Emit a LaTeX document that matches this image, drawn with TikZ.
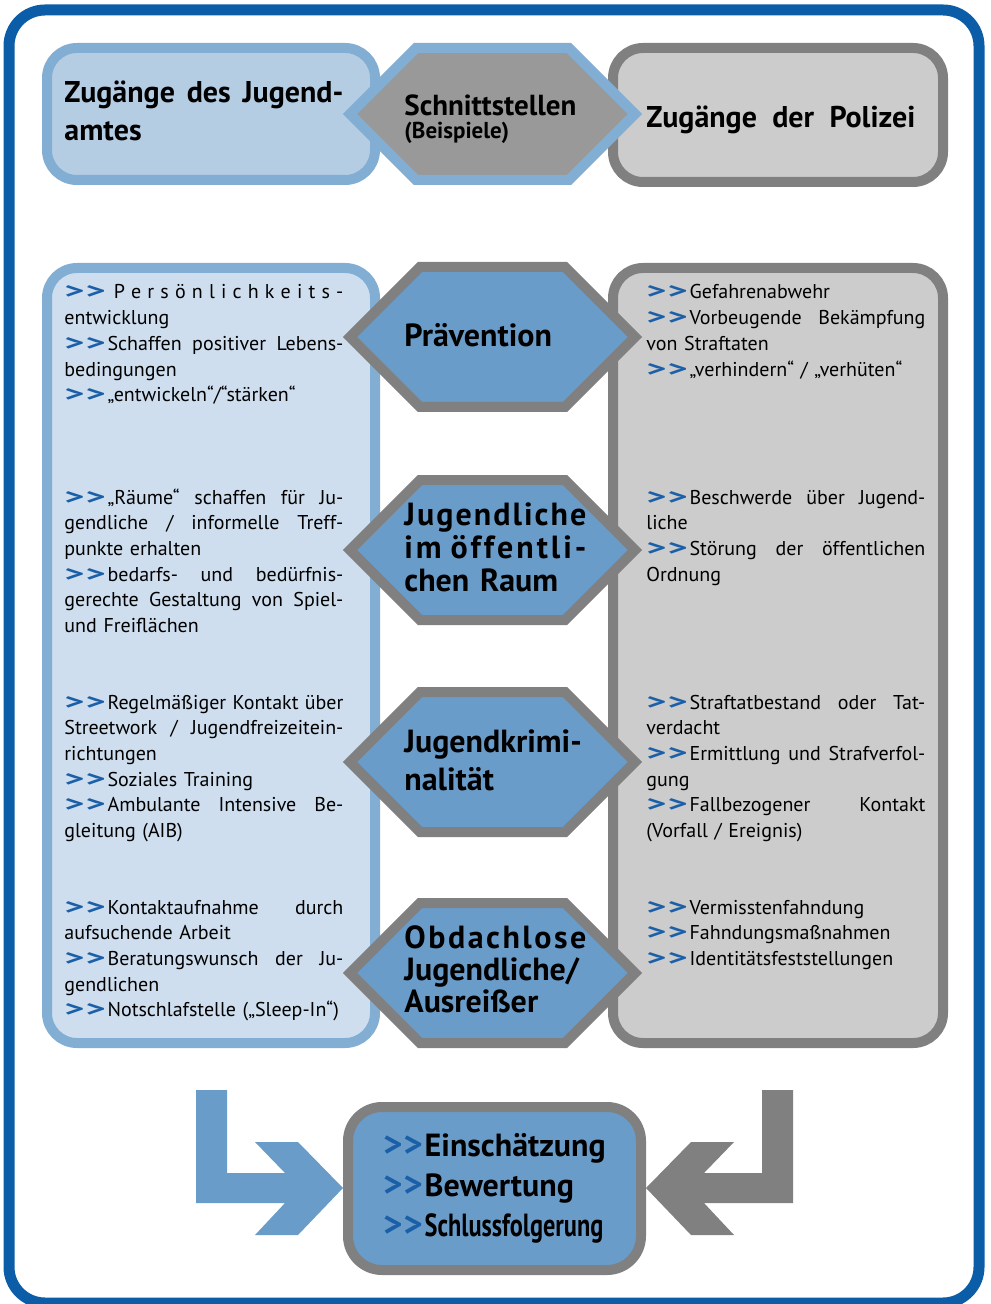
\documentclass[tikz,border=0pt]{standalone}
\usepackage{fontspec}
\setmainfont{PT Sans}
\usepackage{graphicx}
\usepackage{tikz}
\definecolor{frameblue}{HTML}{0C5DA8}
\definecolor{jaborder}{HTML}{82AED4}
\definecolor{jahead}{HTML}{B5CDE3}
\definecolor{jabody}{HTML}{CEDEEE}
\definecolor{hexblue}{HTML}{6A9CCA}
\definecolor{polborder}{HTML}{808080}
\definecolor{polfill}{HTML}{CCCCCC}
\definecolor{hexgray}{HTML}{999999}
\definecolor{arrowblue}{HTML}{1A5FA8}
\newlength\colw
\setlength\colw{139.5pt}
\newcommand\jl[2][\colw]{\makebox[#1][s]{\spaceskip=\fontdimen2\font plus 1fil\relax#2}}
\newcommand\arr[1][1.9]{{\bfseries\color{arrowblue}\scalebox{#1}[1.1]{>\kern.3pt>}}\kern1pt}
\makeatletter
\newcommand\spreadout[1]{\@tfor\sp@ch:=#1\do{\sp@ch\hfil}\unskip}
\makeatother
\tikzset{
  jabox/.style={draw=jaborder, line width=5pt, rounded corners=15pt},
  polbox/.style={draw=polborder, line width=5pt, rounded corners=15pt, fill=polfill},
  hextop/.style={draw=jaborder, line width=5pt, fill=hexgray},
  hexmid/.style={draw=polborder, line width=5pt, fill=hexblue},
  bodytxt/.style={anchor=base west, inner sep=0pt, text width=\colw, align=left, font=\fontsize{10}{12.85}\selectfont},
  headtxt/.style={anchor=base west, inner sep=0pt, text width=140pt, align=left, font=\bfseries\fontsize{15}{19}\selectfont},
  hextxt/.style={anchor=base west, inner sep=0pt, text width=92pt, align=left, font=\bfseries\fontsize{16}{16.5}\selectfont},
  fazitbox/.style={draw=polborder, line width=5pt, rounded corners=17pt, fill=hexblue, minimum width=146.5pt, minimum height=81.5pt, align=left, font=\bfseries\fontsize{16}{20}\selectfont}
}
\begin{document}
\begin{tikzpicture}[x=0.5pt, y=-0.5pt]
  \useasboundingbox (0,0) rectangle (990,1304);
  \draw[frameblue, line width=5.5pt, rounded corners=18pt, fill=white] (9,10) rectangle (979,1303);

  % Kopfzeile
  \draw[jabox, fill=jahead] (47,48) rectangle (375,180);
  \draw[polbox] (613,48) rectangle (943,182);
  \draw[hextop] (350,114) -- ++(66,-66) -- ++(153,0) -- ++(66,66) -- ++(-66,66) -- ++(-153,0) -- cycle;
  \node[headtxt] (jaTitle) at (64,103) {\jl[139.5pt]{Zugänge des Jugend-}\\amtes};
  \node[headtxt] (polTitle) at (646,128) {\jl[134.5pt]{Zugänge der Polizei}};
  \node[headtxt, font=\bfseries\fontsize{14.5}{16}\selectfont] (schnitt) at (404,116) {Schnittstellen};
  \node[headtxt, font=\bfseries\fontsize{11.5}{12}\selectfont] (beisp) at (404,139) {(Beispiele)};

  % Spalten
  \draw[jabox, fill=jabody] (47,268) rectangle (375,1043);
  \draw[polbox] (613,268) rectangle (943,1043);
  \foreach \cy in {337,550,762,973}
    \draw[hexmid] (350,\cy) -- ++(70,-70) -- ++(145,0) -- ++(70,70) -- ++(-70,70) -- ++(-145,0) -- cycle;

  \node[hextxt] (hexPrae) at (404,347) {Prävention};
  \node[hextxt] (hexRaum) at (404,525) {\makebox[91pt][s]{\spreadout{Jugendliche}}\\
    \makebox[91pt][s]{\spreadout{im}\hfil\hfil\hfil\spreadout{öffentli-}}\\chen Raum};
  \node[hextxt, font=\bfseries\fontsize{16}{19}\selectfont] (hexKrim) at (404,752) {Jugendkrimi-\\nalität};
  \node[hextxt, font=\bfseries\fontsize{16}{16}\selectfont] (hexObd) at (404,948) {\makebox[91pt][s]{\spreadout{Obdachlose}}\\Jugendliche/\\Ausreißer};

  \node[bodytxt] (jaPrae) at (64,299) {\jl{\arr\hfil\spreadout{Persönlichkeits-}}\\
    entwicklung\\
    \jl{\arr Schaffen positiver Lebens-}\\
    bedingungen\\
    \arr„entwickeln“/“stärken“};
  \node[bodytxt] (jaRaum) at (64,504) {\jl{\arr„Räume“ schaffen für Ju-}\\
    \jl{gendliche / informelle Treff-}\\
    punkte erhalten\\
    \jl{\arr bedarfs- und bedürfnis-}\\
    \jl{gerechte Gestaltung von Spiel-}\\
    und Freiflächen};
  \node[bodytxt] (jaKrim) at (64,709) {\jl{\arr Regelmäßiger Kontakt über}\\
    \jl{Streetwork / Jugendfreizeitein-}\\
    richtungen\\
    \arr Soziales Training\\
    \jl{\arr Ambulante Intensive Be-}\\
    gleitung (AIB)};
  \node[bodytxt] (jaObd) at (64,914) {\jl{\arr Kontaktaufnahme durch}\\
    aufsuchende Arbeit\\
    \jl{\arr Beratungswunsch der Ju-}\\
    gendlichen\\
    \arr Notschlafstelle („Sleep-In“)};

  \node[bodytxt] (polPrae) at (646,299) {\arr Gefahrenabwehr\\
    \jl{\arr Vorbeugende Bekämpfung}\\
    von Straftaten\\
    \arr„verhindern“ / „verhüten“};
  \node[bodytxt] (polRaum) at (646,504) {\jl{\arr Beschwerde über Jugend-}\\
    liche\\
    \jl{\arr Störung der öffentlichen}\\
    Ordnung};
  \node[bodytxt] (polKrim) at (646,709) {\jl{\arr Straftatbestand oder Tat-}\\
    verdacht\\
    \jl{\arr Ermittlung und Strafverfol-}\\
    gung\\
    \jl{\arr Fallbezogener Kontakt}\\
    (Vorfall / Ereignis)};
  \node[bodytxt] (polObd) at (646,914) {\arr Vermisstenfahndung\\
    \arr Fahndungsmaßnahmen\\
    \arr Identitätsfeststellungen};

  % Zusammenfuehrung
  \fill[hexblue] (196,1090) -- (227,1090) -- (227,1173) -- (285,1173) -- (255,1142) -- (298,1142) -- (343,1188)
    -- (298,1235) -- (255,1235) -- (285,1203) -- (196,1203) -- cycle;
  \fill[polborder] (793,1090) -- (762,1090) -- (762,1173) -- (704,1173) -- (734,1142) -- (691,1142) -- (646,1188)
    -- (691,1235) -- (734,1235) -- (704,1203) -- (793,1203) -- cycle;
  \node[fazitbox] (fazit) at (494.5,1188.5) {\arr[1.15]Einschätzung\\\arr[1.15]Bewertung\\\arr[1.15]\scalebox{.76}[1]{Schlussfolgerung}};
\end{tikzpicture}
\end{document}
